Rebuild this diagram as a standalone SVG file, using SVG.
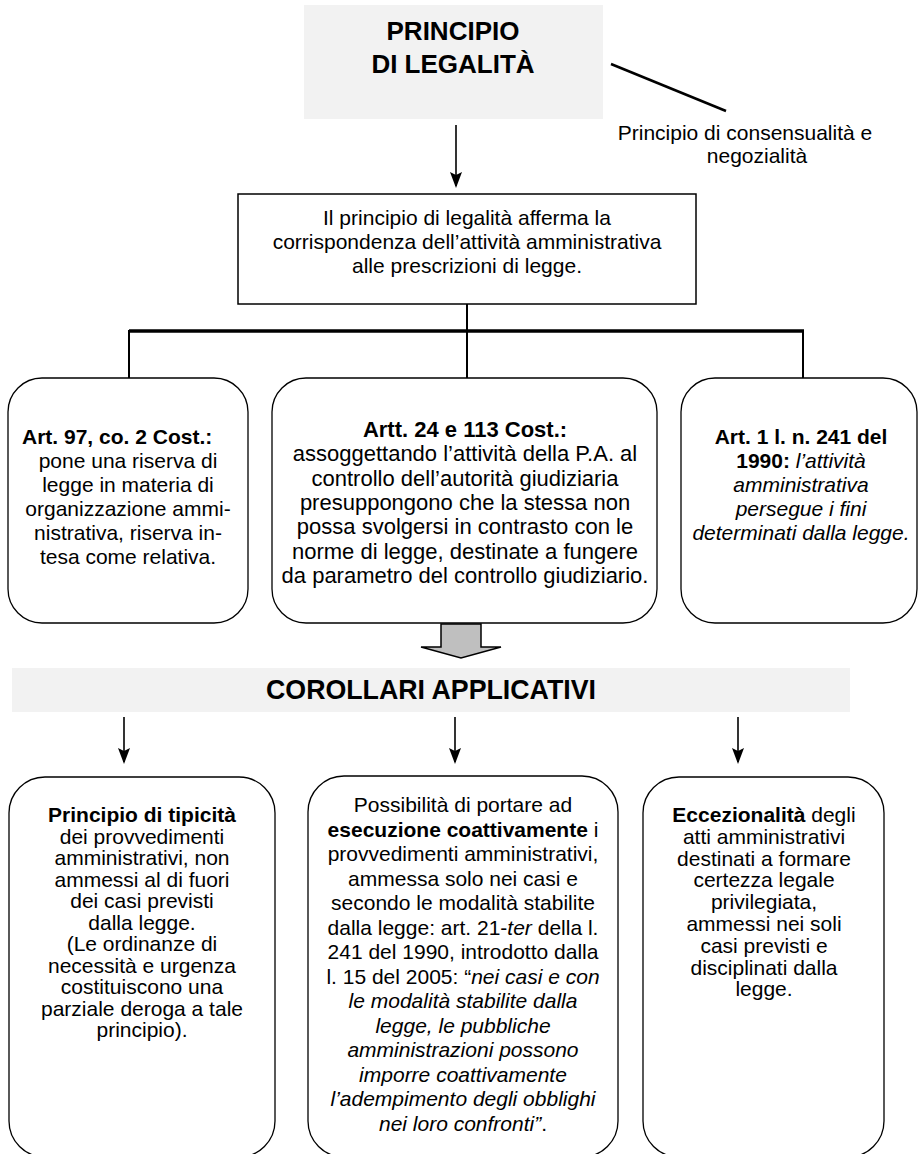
<svg xmlns="http://www.w3.org/2000/svg" width="921" height="1154" viewBox="0 0 921 1154">
<style>
.t{font-family:"Liberation Sans",Arial,sans-serif;font-size:21px;fill:#000;text-anchor:middle}
.m{font-size:22px}
.b{font-weight:bold}
.i{font-style:italic}
.box{fill:#fff;stroke:#000;stroke-width:1.3}
.ln{stroke:#000;stroke-width:2;fill:none}
.arr{stroke:#000;stroke-width:1.6;fill:none;marker-end:url(#ah)}
.shade{fill:#f2f2f2;stroke:none}
</style>
<defs>
<marker id="ah" viewBox="0 0 16 12" refX="14" refY="6" markerWidth="16" markerHeight="12" markerUnits="userSpaceOnUse" orient="auto">
<path d="M0,0 L16,6 L0,12 L3,6 Z" fill="#000"/>
</marker>
</defs>
<rect width="921" height="1154" fill="#fff"/>

<g id="connectors">
<line class="arr" x1="456" y1="125" x2="456" y2="186"/>
<line x1="611" y1="64" x2="726" y2="111" stroke="#000" stroke-width="2.5"/>
<line class="ln" x1="467" y1="304" x2="467" y2="378"/>
<line x1="129" y1="331" x2="804" y2="331" stroke="#000" stroke-width="3.5"/>
<line class="ln" x1="129" y1="330" x2="129" y2="378"/>
<line class="ln" x1="803" y1="330" x2="803" y2="378"/>
<path d="M441,624 L481,624 L481,647 L501,647 L461,658 L421,647 L441,647 Z" fill="#bfbfbf" stroke="#000" stroke-width="1.5"/>
<line class="arr" x1="124" y1="717" x2="124" y2="762"/>
<line class="arr" x1="455" y1="717" x2="455" y2="762"/>
<line class="arr" x1="738" y1="717" x2="738" y2="762"/>
</g>

<g id="titolo">
<rect class="shade" x="304" y="5" width="299" height="114"/>
<text class="t b" x="453" y="40" style="font-size:26px">PRINCIPIO</text>
<text class="t b" x="453" y="73" style="font-size:26px">DI LEGALITÀ</text>
</g>

<g id="consensualita">
<text class="t" x="745" y="140">Principio di consensualità e</text>
<text class="t" x="757" y="163">negozialità</text>
</g>

<g id="definizione">
<rect class="box" x="238" y="194" width="458" height="110" style="stroke-width:1.5"/>
<text class="t" x="467" y="225">Il principio di legalità afferma la</text>
<text class="t" x="467" y="249">corrispondenza dell’attività amministrativa</text>
<text class="t" x="467" y="273">alle prescrizioni di legge.</text>
</g>

<g id="art97">
<rect class="box" x="8" y="378" width="240" height="245" rx="34"/>
<text class="t b" x="22" y="444" style="text-anchor:start">Art. 97, co. 2 Cost.:</text>
<text class="t" x="128" y="468">pone una riserva di</text>
<text class="t" x="128" y="492">legge in materia di</text>
<text class="t" x="128" y="516">organizzazione ammi-</text>
<text class="t" x="128" y="540">nistrativa, riserva in-</text>
<text class="t" x="128" y="564">tesa come relativa.</text>
</g>

<g id="art24">
<rect class="box" x="272" y="378" width="385" height="245" rx="34"/>
<text class="t m b" x="465" y="437">Artt. 24 e 113 Cost.:</text>
<text class="t m" x="465" y="461">assoggettando l’attività della P.A. al</text>
<text class="t m" x="465" y="485.5">controllo dell’autorità giudiziaria</text>
<text class="t m" x="465" y="510">presuppongono che la stessa non</text>
<text class="t m" x="465" y="534">possa svolgersi in contrasto con le</text>
<text class="t m" x="465" y="558.5">norme di legge, destinate a fungere</text>
<text class="t m" x="465" y="583">da parametro del controllo giudiziario.</text>
</g>

<g id="art1">
<rect class="box" x="681" y="378" width="236" height="245" rx="34"/>
<text class="t b" x="801" y="444">Art. 1 l. n. 241 del</text>
<text class="t" x="801" y="468"><tspan class="b">1990:</tspan><tspan class="i"> l’attività</tspan></text>
<text class="t i" x="801" y="492">amministrativa</text>
<text class="t i" x="801" y="516">persegue i fini</text>
<text class="t i" x="801" y="540">determinati dalla legge.</text>
</g>

<g id="corollari">
<rect class="shade" x="12" y="668" width="838" height="44"/>
<text class="t b" x="431" y="699" style="font-size:28px" textLength="330" lengthAdjust="spacingAndGlyphs">COROLLARI APPLICATIVI</text>
</g>

<g id="tipicita">
<rect class="box" x="9" y="777" width="266" height="380" rx="36"/>
<text class="t b" x="142" y="822">Principio di tipicità</text>
<text class="t" x="142" y="843.5">dei provvedimenti</text>
<text class="t" x="142" y="865">amministrativi, non</text>
<text class="t" x="142" y="886.5">ammessi al di fuori</text>
<text class="t" x="142" y="908">dei casi previsti</text>
<text class="t" x="142" y="929.5">dalla legge.</text>
<text class="t" x="142" y="951">(Le ordinanze di</text>
<text class="t" x="142" y="972.5">necessità e urgenza</text>
<text class="t" x="142" y="994">costituiscono una</text>
<text class="t" x="142" y="1015.5">parziale deroga a tale</text>
<text class="t" x="142" y="1037">principio).</text>
</g>

<g id="esecuzione">
<rect class="box" x="308" y="776" width="310" height="381" rx="36"/>
<text class="t" x="463" y="812">Possibilità di portare ad</text>
<text class="t" x="463" y="836.5"><tspan class="b">esecuzione coattivamente</tspan> i</text>
<text class="t" x="463" y="861">provvedimenti amministrativi,</text>
<text class="t" x="463" y="885.5">ammessa solo nei casi e</text>
<text class="t" x="463" y="910">secondo le modalità stabilite</text>
<text class="t" x="463" y="934.5">dalla legge: art. 21-<tspan class="i">ter</tspan> della l.</text>
<text class="t" x="463" y="959">241 del 1990, introdotto dalla</text>
<text class="t" x="463" y="983.5">l. 15 del 2005: “<tspan class="i">nei casi e con</tspan></text>
<text class="t i" x="463" y="1008">le modalità stabilite dalla</text>
<text class="t i" x="463" y="1032.5">legge, le pubbliche</text>
<text class="t i" x="463" y="1057">amministrazioni possono</text>
<text class="t i" x="463" y="1081.5">imporre coattivamente</text>
<text class="t i" x="463" y="1106">l’adempimento degli obblighi</text>
<text class="t" x="463" y="1130.5"><tspan class="i">nei loro confronti”</tspan>.</text>
</g>

<g id="eccezionalita">
<rect class="box" x="643" y="777" width="241" height="380" rx="36"/>
<text class="t" x="764" y="822"><tspan class="b">Eccezionalità</tspan> degli</text>
<text class="t" x="764" y="843.8">atti amministrativi</text>
<text class="t" x="764" y="865.6">destinati a formare</text>
<text class="t" x="764" y="887.4">certezza legale</text>
<text class="t" x="764" y="909.2">privilegiata,</text>
<text class="t" x="764" y="931">ammessi nei soli</text>
<text class="t" x="764" y="952.8">casi previsti e</text>
<text class="t" x="764" y="974.6">disciplinati dalla</text>
<text class="t" x="764" y="996.4">legge.</text>
</g>
</svg>
